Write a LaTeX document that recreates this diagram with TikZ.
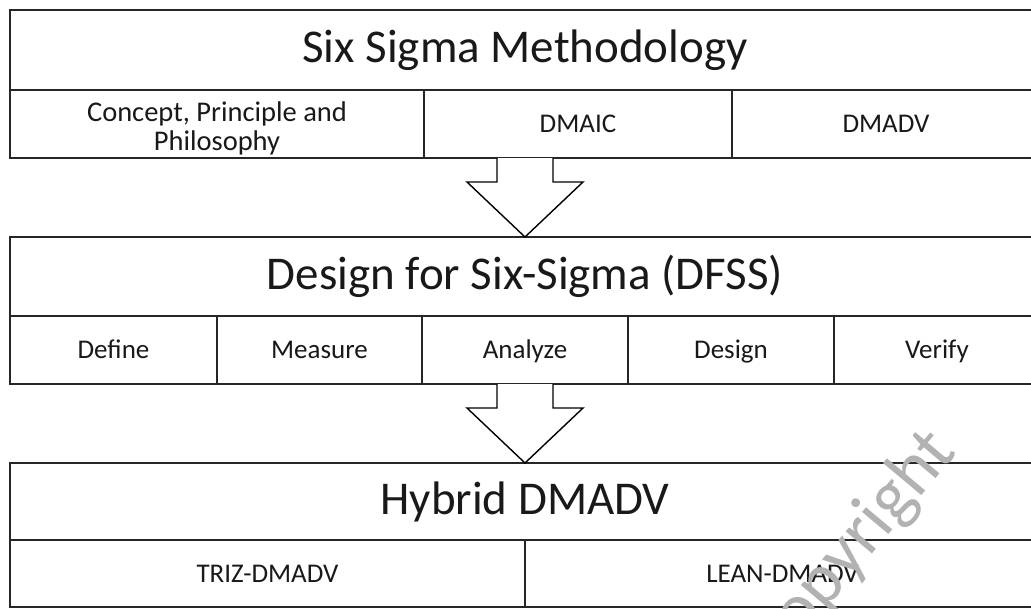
\documentclass[tikz,border=0pt]{standalone}
\usepackage{fontspec}
\setmainfont{Carlito}
\begin{document}
\begin{tikzpicture}[x=1pt,y=-1pt,
  boxline/.style={draw=black!85, line width=1.5pt, line cap=rect},
  cell/.style={anchor=north west, inner sep=0pt, outer sep=0pt, align=center,
    text height=21pt, text depth=4pt, text=black!90,
    font=\fontsize{27}{31}\selectfont},
  emptycell/.style={anchor=north west, inner sep=0pt, outer sep=0pt},
  twoline/.style={inner sep=0pt, align=center,
    text=black!90, font=\fontsize{28.5}{29}\selectfont},
  titlecell/.style={anchor=north west, inner sep=0pt, outer sep=0pt, align=center,
    text=black!90, font=\fontsize{47}{56}\selectfont},
  barrow/.style={draw=black, line width=1.4pt, fill=white, line join=miter},
  wmark/.style={text=black!30, font=\fontsize{72}{80}\selectfont, rotate=50}]
\useasboundingbox (0,0) rectangle (1031,608);
\clip (0,0) rectangle (1031,608);
\fill[white] (0,0) rectangle (1031,608);
% level 1
\node[titlecell, minimum width=1030pt, minimum height=80pt] (t1) at (10,10) {Six Sigma Methodology};
\node[emptycell, minimum width=414pt, minimum height=68pt] (r1a) at (10,90) {};
\node[twoline, yshift=-4pt] (r1atext) at (r1a.center) {Concept, Principle and\\Philosophy};
\node[cell, minimum width=308pt, minimum height=68pt] (r1b) at (424,90) {DMAIC};
\node[cell, minimum width=308pt, minimum height=68pt] (r1c) at (732,90) {DMADV};
% level 2
\node[titlecell, minimum width=1030pt, minimum height=79pt] (t2) at (10,237) {Design for Six-Sigma (DFSS)};
\node[cell, minimum width=207pt, minimum height=68pt] (r2a) at (10,316) {Define};
\node[cell, minimum width=205pt, minimum height=68pt] (r2b) at (217,316) {Measure};
\node[cell, minimum width=206pt, minimum height=68pt] (r2c) at (422,316) {Analyze};
\node[cell, minimum width=206pt, minimum height=68pt] (r2d) at (628,316) {Design};
\node[cell, minimum width=206pt, minimum height=68pt] (r2e) at (834,316) {Verify};
% level 3
\node[titlecell, minimum width=1030pt, minimum height=77pt] (t3) at (10,463) {Hybrid DMADV};
\node[cell, minimum width=515pt, minimum height=67pt] (r3a) at (10,540) {TRIZ-DMADV};
\node[cell, minimum width=515pt, minimum height=67pt] (r3b) at (525,540) {LEAN-DMADV};
% outlines (open on the right, running past the edge)
\draw[boxline] ([xshift=40pt]t1.north east) -- (t1.north west) -- (r1a.south west) -- ([xshift=40pt]r1c.south east);
\draw[boxline] (r1a.north west) -- ([xshift=40pt]r1c.north east);
\draw[boxline] (r1a.north east) -- (r1a.south east);
\draw[boxline] (r1b.north east) -- (r1b.south east);
\draw[boxline] ([xshift=40pt]t2.north east) -- (t2.north west) -- (r2a.south west) -- ([xshift=40pt]r2e.south east);
\draw[boxline] (r2a.north west) -- ([xshift=40pt]r2e.north east);
\draw[boxline] (r2a.north east) -- (r2a.south east);
\draw[boxline] (r2b.north east) -- (r2b.south east);
\draw[boxline] (r2c.north east) -- (r2c.south east);
\draw[boxline] (r2d.north east) -- (r2d.south east);
\draw[boxline] ([xshift=40pt]t3.north east) -- (t3.north west) -- (r3a.south west) -- ([xshift=40pt]r3b.south east);
\draw[boxline] (r3a.north west) -- ([xshift=40pt]r3b.north east);
\draw[boxline] (r3a.north east) -- (r3a.south east);
% block arrows
\path (t2.north |- r1a.south) coordinate (a1);
\draw[barrow] ([xshift=-28pt]a1) -- ++(0,24) -- ++(-30,0) -- (t2.north)
  -- ++(58,-55) -- ++(-30,0) -- ++(0,-24);
\path (t3.north |- r2a.south) coordinate (a2);
\draw[barrow] ([xshift=-28pt]a2) -- ++(0,24) -- ++(-30,0) -- (t3.north)
  -- ++(58,-55) -- ++(-30,0) -- ++(0,-24);
% watermark
\node[wmark] (wm) at (855,546) {copyright};
\end{tikzpicture}
\end{document}
